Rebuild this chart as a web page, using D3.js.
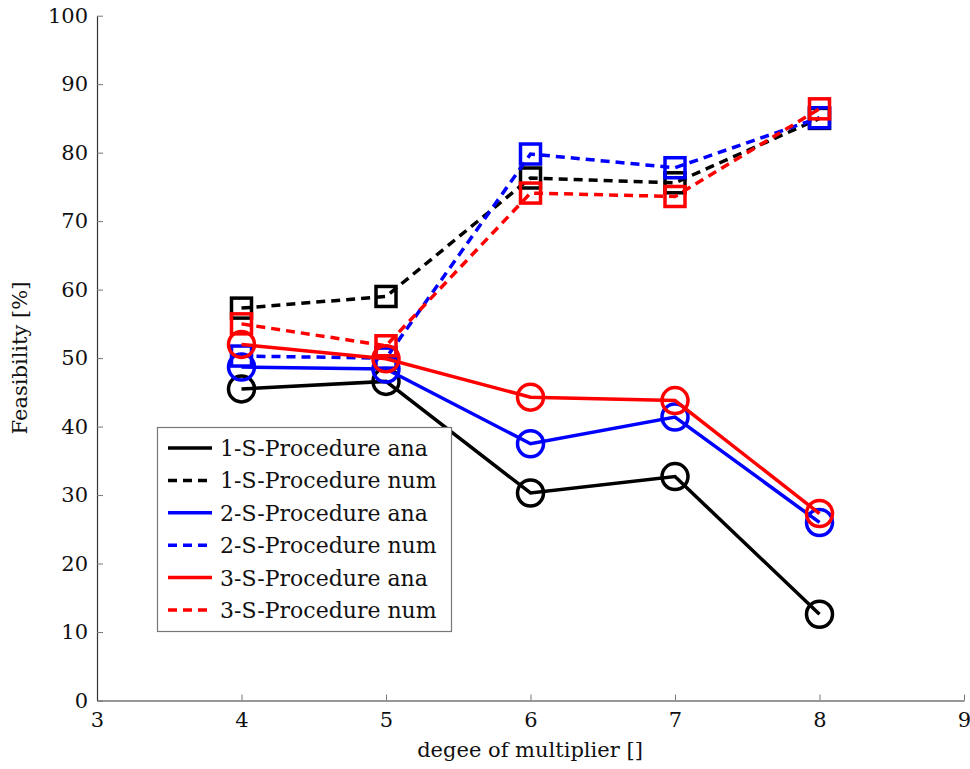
<!DOCTYPE html>
<html>
<head>
<meta charset="utf-8">
<script src="https://cdn.jsdelivr.net/npm/d3@7"></script>
<style>
  body { margin: 0; background: #fff; }
  text { font-family: "DejaVu Serif", serif; fill: #111; }
</style>
</head>
<body>
<div class="chart"></div>
<script>
const degrees = [4, 5, 6, 7, 8];
const xTicks = [3, 4, 5, 6, 7, 8, 9];
const yTicks = [0, 10, 20, 30, 40, 50, 60, 70, 80, 90, 100];

const ana1 = [45.5, 46.6, 30.3, 32.7, 12.6];
const num1 = [57.3, 59.0, 76.3, 75.6, 85.0];
const ana2 = [48.7, 48.4, 37.5, 41.4, 26.0];
const num2 = [50.3, 50.0, 79.8, 77.8, 85.1];
const ana3 = [52.0, 49.9, 44.3, 43.8, 27.3];
const num3 = [55.0, 51.8, 74.1, 73.6, 86.4];

const series = [
  { name: "1-S-Procedure ana", values: ana1, color: "#000", dashed: false },
  { name: "1-S-Procedure num", values: num1, color: "#000", dashed: true },
  { name: "2-S-Procedure ana", values: ana2, color: "#00f", dashed: false },
  { name: "2-S-Procedure num", values: num2, color: "#00f", dashed: true },
  { name: "3-S-Procedure ana", values: ana3, color: "#f00", dashed: false },
  { name: "3-S-Procedure num", values: num3, color: "#f00", dashed: true }
];

const width = 970;
const height = 769;

const x = d3.scaleLinear().domain([3, 9]).range([97, 964]);
const y = d3.scaleLinear().domain([0, 100]).range([700.5, 15.7]);

const svg = d3.select(".chart")
  .append("svg")
  .attr("width", width)
  .attr("height", height);

// axes, ticks pointing inward
const xAxis = svg.append("g")
  .attr("transform", `translate(0,${y(0)})`)
  .call(d3.axisBottom(x).tickValues(xTicks).tickFormat(d3.format("d"))
    .tickSizeInner(-6).tickSizeOuter(0).tickPadding(12));
const yAxis = svg.append("g")
  .attr("transform", `translate(${x(3)},0)`)
  .call(d3.axisLeft(y).tickValues(yTicks).tickFormat(d3.format("d"))
    .tickSizeInner(-6).tickSizeOuter(0).tickPadding(9));

[xAxis, yAxis].forEach(a => {
  a.select(".domain").attr("stroke", "#333").attr("stroke-width", 1.2);
  a.selectAll(".tick line").attr("stroke", "#777").attr("stroke-width", 1);
  a.selectAll(".tick text").style("font-size", "21px").attr("fill", "#111");
});

const line = d3.line()
  .x((d, i) => x(degrees[i]))
  .y(d => y(d));

series.forEach(s => {
  const g = svg.append("g");
  g.append("path")
    .attr("d", line(s.values))
    .attr("fill", "none")
    .attr("stroke", s.color)
    .attr("stroke-width", 3.5)
    .attr("stroke-dasharray", s.dashed ? "9,6" : null);
  if (s.dashed) {
    g.selectAll("rect")
      .data(s.values)
      .enter()
      .append("rect")
      .attr("x", (d, i) => x(degrees[i]) - 10)
      .attr("y", d => y(d) - 10)
      .attr("width", 20)
      .attr("height", 20)
      .attr("fill", "none")
      .attr("stroke", s.color)
      .attr("stroke-width", 3.5);
  } else {
    g.selectAll("circle")
      .data(s.values)
      .enter()
      .append("circle")
      .attr("cx", (d, i) => x(degrees[i]))
      .attr("cy", d => y(d))
      .attr("r", 13)
      .attr("fill", "none")
      .attr("stroke", s.color)
      .attr("stroke-width", 3.5);
  }
});

// axis labels
svg.append("text")
  .attr("x", 530)
  .attr("y", 757)
  .attr("text-anchor", "middle")
  .style("font-size", "21px")
  .text("degee of multiplier []");

svg.append("text")
  .attr("transform", "translate(27,358) rotate(-90)")
  .attr("text-anchor", "middle")
  .style("font-size", "21px")
  .text("Feasibility [%]");

// legend
const legend = svg.append("g");
legend.append("rect")
  .attr("x", 157.5)
  .attr("y", 427.5)
  .attr("width", 294)
  .attr("height", 204)
  .attr("fill", "#fff")
  .attr("stroke", "#777")
  .attr("stroke-width", 1.2);

const items = legend.selectAll("g.item")
  .data(series)
  .enter()
  .append("g")
  .attr("transform", (d, i) => `translate(0,${448 + i * 32.4})`);

items.append("line")
  .attr("x1", 168)
  .attr("x2", 212)
  .attr("y1", 0)
  .attr("y2", 0)
  .attr("stroke", d => d.color)
  .attr("stroke-width", 3.5)
  .attr("stroke-dasharray", d => d.dashed ? "9,6" : null);

items.append("text")
  .attr("x", 220)
  .attr("y", 8)
  .style("font-size", "22px")
  .text(d => d.name);
</script>
</body>
</html>
